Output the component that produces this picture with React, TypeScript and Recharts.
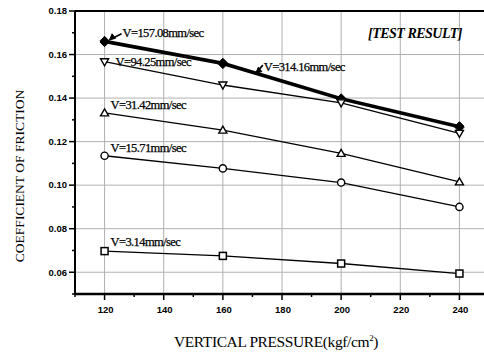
import React from 'react';
import { LineChart, Line, XAxis, YAxis, ReferenceLine, Label, LabelList } from 'recharts';

const pressures = [120, 160, 200, 240];
const v157 = [0.1663, 0.1562, 0.1399, 0.1271];
const v314 = [0.1657, 0.1556, 0.1394, 0.1265];
const v94 = [0.1567, 0.146, 0.1378, 0.1238];
const v31 = [0.1332, 0.1253, 0.1146, 0.1015];
const v15 = [0.1135, 0.1077, 0.1012, 0.09];
const v3 = [0.0697, 0.0675, 0.064, 0.0594];

const xDomain = [110, 250];
const yDomain = [0.05, 0.18];
const xTicks = [110, 120, 130, 140, 150, 160, 170, 180, 190, 200, 210, 220, 230, 240, 250];
const xMajor = [120, 140, 160, 180, 200, 220, 240];
const yTicks = [0.05, 0.06, 0.07, 0.08, 0.09, 0.1, 0.11, 0.12, 0.13, 0.14, 0.15, 0.16, 0.17, 0.18];
const yMajor = [0.06, 0.08, 0.1, 0.12, 0.14, 0.16, 0.18];
const yGrid = [0.06, 0.08, 0.1, 0.12, 0.14, 0.16];

const labels = {
  v157: 'V=157.08mm/sec',
  v314: 'V=314.16mm/sec',
  v94: 'V=94.25mm/sec',
  v31: 'V=31.42mm/sec',
  v15: 'V=15.71mm/sec',
  v3: 'V=3.14mm/sec',
};

const data = pressures.map((p, i) => ({
  p,
  v157: v157[i],
  v314: v314[i],
  v94: v94[i],
  v31: v31[i],
  v15: v15[i],
  v3: v3[i],
}));

const SERIF = '"Liberation Serif", "Times New Roman", serif';
const SANS = '"Liberation Sans", Arial, sans-serif';
const TS = 5;
const TM = 3;

const isMajor = (v: number, list: number[]) => list.some((m) => Math.abs(m - v) < 1e-9);

const YTick = (props: any) => {
  const { x, y, payload } = props;
  const ax = x + TS + TM;
  const major = isMajor(payload.value, yMajor);
  return (
    <g>
      <line x1={ax - (major ? 6 : 3)} x2={ax} y1={y} y2={y} stroke="#000" strokeWidth={1.5} />
      {major && (
        <text x={x} y={y} dy="0.35em" textAnchor="end" fontFamily={SANS} fontWeight="bold" fontSize={9.5} fill="#000">
          {payload.value.toFixed(2)}
        </text>
      )}
    </g>
  );
};

const XTick = (props: any) => {
  const { x, y, payload } = props;
  const ay = y - TS - TM;
  const major = isMajor(payload.value, xMajor);
  return (
    <g>
      <line x1={x} x2={x} y1={ay} y2={ay + (major ? 6 : 3)} stroke="#000" strokeWidth={1.5} />
      {major && (
        <text x={x + 1} y={ay + 12} dy="0.71em" textAnchor="middle" fontFamily={SANS} fontWeight="bold" fontSize={9.5} fill="#000">
          {payload.value}
        </text>
      )}
    </g>
  );
};

const Diamond = (props: any) => {
  const { cx, cy } = props;
  if (cx == null || cy == null) return null;
  const s = 4.5;
  return <path d={`M${cx},${cy - s}L${cx + s},${cy}L${cx},${cy + s}L${cx - s},${cy}Z`} fill="#000" stroke="#000" />;
};
const DownTri = (props: any) => {
  const { cx, cy } = props;
  if (cx == null || cy == null) return null;
  return <path d={`M${cx - 4},${cy - 3}L${cx + 4},${cy - 3}L${cx},${cy + 4}Z`} fill="#fff" stroke="#000" strokeWidth={1.4} />;
};
const UpTri = (props: any) => {
  const { cx, cy } = props;
  if (cx == null || cy == null) return null;
  return <path d={`M${cx - 4},${cy + 3}L${cx + 4},${cy + 3}L${cx},${cy - 4}Z`} fill="#fff" stroke="#000" strokeWidth={1.4} />;
};
const Circ = (props: any) => {
  const { cx, cy } = props;
  if (cx == null || cy == null) return null;
  return <circle cx={cx} cy={cy} r={3.6} fill="#fff" stroke="#000" strokeWidth={1.4} />;
};
const Sq = (props: any) => {
  const { cx, cy } = props;
  if (cx == null || cy == null) return null;
  return <rect x={cx - 3.5} y={cy - 3.5} width={7} height={7} fill="#fff" stroke="#000" strokeWidth={1.5} />;
};

const makeLabel = (text: string, idx: number, dx: number, dy: number, arrow?: { x1: number; y1: number; x2: number; y2: number }) =>
  (props: any) => {
    const { x, y, index } = props;
    if (index !== idx) return null;
    return (
      <g>
        {arrow && (
          <g>
            <line x1={x + arrow.x1} y1={y + arrow.y1} x2={x + arrow.x2} y2={y + arrow.y2} stroke="#000" strokeWidth={1.6} />
            <path d={`M${x + arrow.x2},${y + arrow.y2}l6,-1.5l-3.5,-4.5Z`} fill="#000" stroke="#000" />
          </g>
        )}
        <text x={x + dx} y={y + dy} dy="0.35em" fontFamily={SERIF} fontSize={12.5} fill="#000" letterSpacing={-0.6} stroke="#000" strokeWidth={0.25}>
          {text}
        </text>
      </g>
    );
  };

export default function App() {
  return (
    <div style={{ position: 'absolute', left: 0, top: 0, width: 484, height: 356, overflow: 'hidden', background: '#fff' }}>
      <LineChart width={500} height={356} data={data} margin={{ top: 11, right: 11, left: 0, bottom: 0 }}>
        <XAxis
          dataKey="p"
          type="number"
          domain={xDomain}
          ticks={xTicks}
          interval={0}
          tickSize={TS}
          tickMargin={TM}
          tickLine={false}
          tick={<XTick />}
          axisLine={{ stroke: '#000', strokeWidth: 2.5 }}
          height={62}
        >
          <Label
            content={(p: any) => {
              const vb = p.viewBox;
              return (
                <text x={276} y={vb.y + 48} dy="0.35em" textAnchor="middle" fontFamily={SERIF} fontSize={15.5} fill="#000" letterSpacing={-0.4}>
                  VERTICAL PRESSURE(kgf/cm
                  <tspan fontSize={9} dy="-6">2</tspan>
                  <tspan dy="6">)</tspan>
                </text>
              );
            }}
          />
        </XAxis>
        <YAxis
          type="number"
          domain={yDomain}
          ticks={yTicks}
          interval={0}
          tickSize={TS}
          tickMargin={TM}
          tickLine={false}
          tick={<YTick />}
          axisLine={{ stroke: '#000', strokeWidth: 2 }}
          width={75}
        >
          <Label
            content={() => (
              <text x={19} y={176} transform="rotate(-90 19 176)" dy="0.35em" textAnchor="middle" fontFamily={SERIF} fontSize={13.5} fill="#000">
                COEFFICIENT OF FRICTION
              </text>
            )}
          />
        </YAxis>
        {yGrid.map((v) => (
          <ReferenceLine key={`h${v}`} y={v} stroke="#b0b0b0" strokeWidth={1} />
        ))}
        {xMajor.map((v) => (
          <ReferenceLine key={`v${v}`} x={v} stroke="#b0b0b0" strokeWidth={1} />
        ))}
        <ReferenceLine y={0.18} stroke="#000" strokeWidth={2}>
          <Label
            content={(p: any) => {
              const vb = p.viewBox;
              return (
                <text x={vb.x + 293} y={vb.y + 22} dy="0.35em" fontFamily={SERIF} fontStyle="italic" fontWeight="bold" fontSize={14} fill="#000" letterSpacing={-0.5}>
                  [TEST RESULT]
                </text>
              );
            }}
          />
        </ReferenceLine>
        <Line dataKey="v314" stroke="#000" strokeWidth={2.2} dot={<Diamond />} isAnimationActive={false}>
          <LabelList content={makeLabel(labels.v314, 1, 41, 3, { x1: 40, y1: 1, x2: 33, y2: 9 })} />
        </Line>
        <Line dataKey="v157" stroke="#000" strokeWidth={2.6} dot={<Diamond />} isAnimationActive={false}>
          <LabelList content={makeLabel(labels.v157, 0, 18, -8, { x1: 17, y1: -7, x2: 5, y2: -1 })} />
        </Line>
        <Line dataKey="v94" stroke="#000" strokeWidth={1.3} dot={<DownTri />} isAnimationActive={false}>
          <LabelList content={makeLabel(labels.v94, 0, 11, 0)} />
        </Line>
        <Line dataKey="v31" stroke="#000" strokeWidth={1.3} dot={<UpTri />} isAnimationActive={false}>
          <LabelList content={makeLabel(labels.v31, 0, 6, -8)} />
        </Line>
        <Line dataKey="v15" stroke="#000" strokeWidth={1.3} dot={<Circ />} isAnimationActive={false}>
          <LabelList content={makeLabel(labels.v15, 0, 6, -8)} />
        </Line>
        <Line dataKey="v3" stroke="#000" strokeWidth={1.3} dot={<Sq />} isAnimationActive={false}>
          <LabelList content={makeLabel(labels.v3, 0, 6, -9)} />
        </Line>
      </LineChart>
    </div>
  );
}
